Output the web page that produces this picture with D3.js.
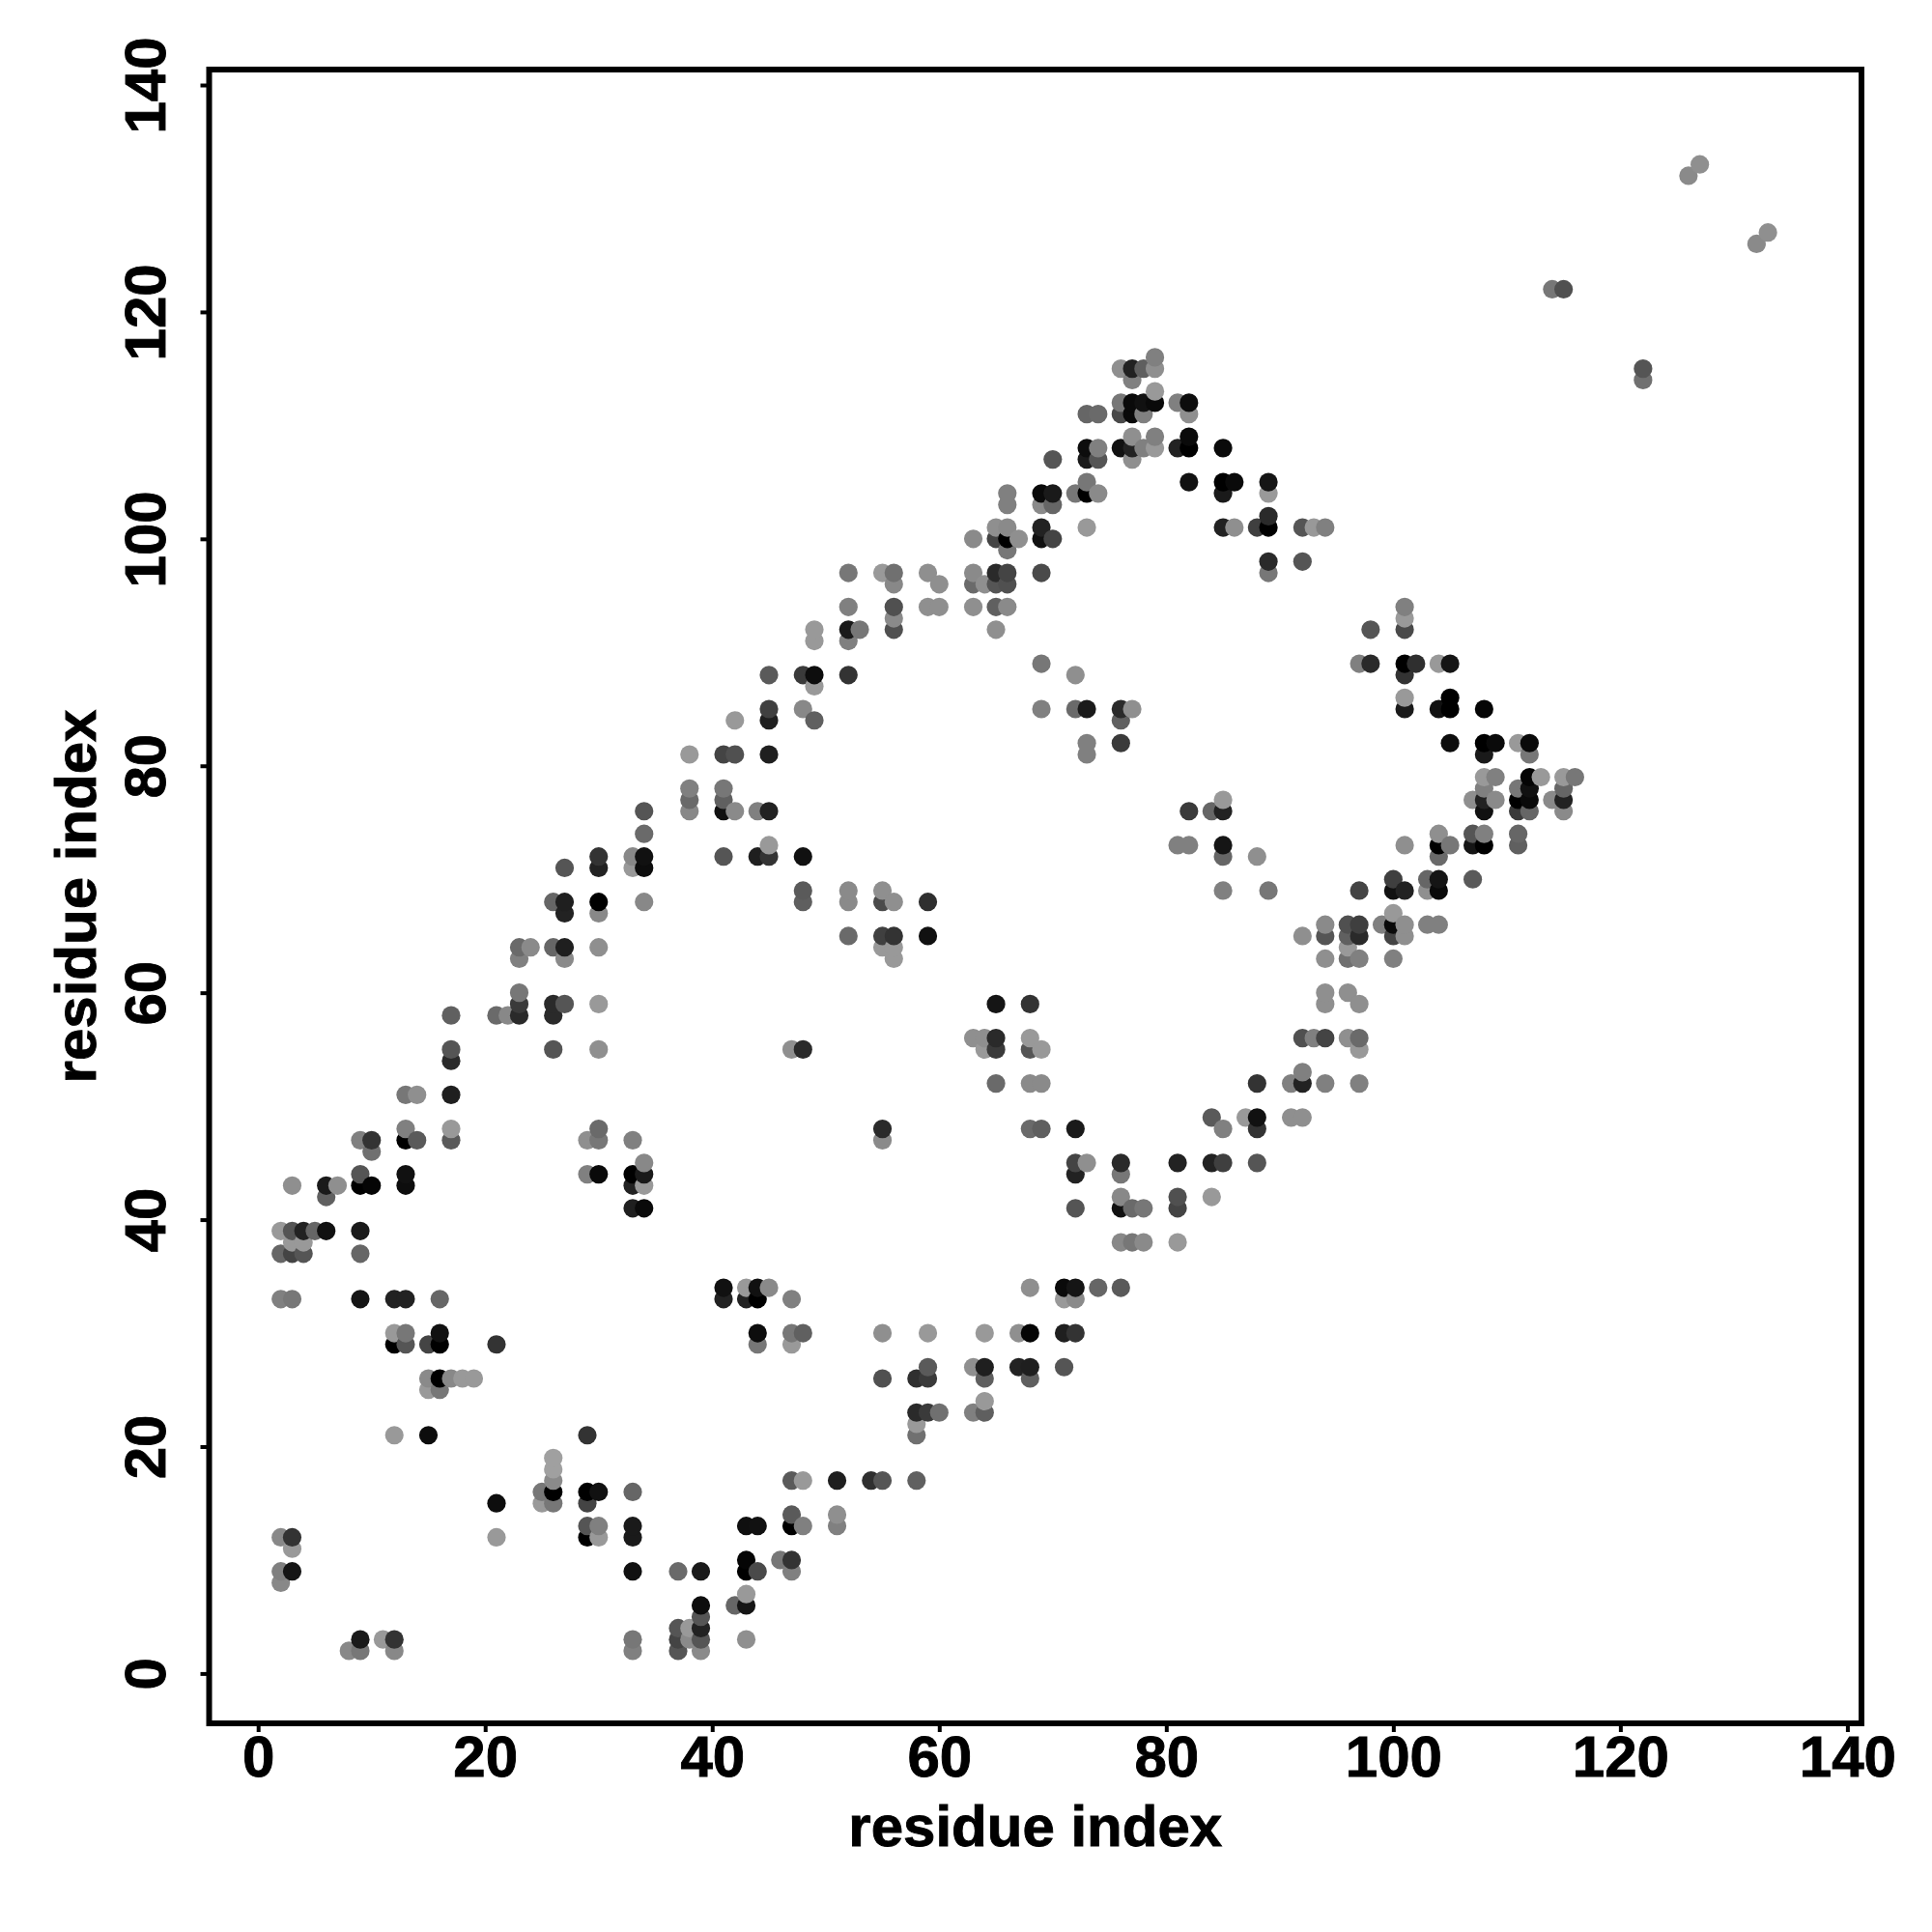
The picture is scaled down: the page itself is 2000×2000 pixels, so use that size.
<!DOCTYPE html>
<html>
<head>
<meta charset="utf-8">
<script src="https://cdn.jsdelivr.net/npm/d3@7/dist/d3.min.js"></script>
<style>
html,body{margin:0;padding:0;background:#fff;}
svg{display:block;}
text{font-family:"Liberation Sans",Arial,sans-serif;font-weight:bold;fill:#000;stroke:#000;stroke-width:0.9px;}
</style>
</head>
<body>
<svg id="chart" width="2000" height="2000"></svg>
<script>
const tickValues = [0,20,40,60,80,100,120,140];
const axisTitle = "residue index";
const rowY = [133,132,127,126,122,116,115,114,113,112,111,109,108,107,105,104,103,102,101,100,99,98,97,96,94,93,92,91,89,88,87,86,85,84,82,81,79,78,77,76,74,73,72,71,70,69,68,67,66,65,64,63,60,59,58,56,55,54,53,52,51,49,48,47,46,45,44,43,42,41,39,38,37,34,33,30,29,27,26,25,24,23,22,21,19,18,17,16,15,14,13,12,11,10,9,8,7,6,5,4,3,2];
const rowX = [
[127],[126],[133],[132],[114,115],[79],[76,77,78,79,122],[77,122],[79],
[76,77,78,79,81,82],[73,74,76,77,78,82],[77,79,82],[73,74,76,77,78,79,81,82,85],
[70,73,74,77],[73,82,85,86,89],[66,69,70,72,73,74,85,89],[66,69,70],[89],
[65,66,69,73,85,86,88,89,92,93,94],[63,65,66,67,69,70],[66],[89,92],
[52,55,56,59,63,65,66,69,89],[56,60,63,64,65,66],[52,56,59,60,63,65,66,101],[56,101],
[49,52,53,56,65,98,101],[49,52],[69,97,98,101,102,104,105],[45,48,49,52,72,101],[49],[101,105],
[45,48,69,72,73,76,77,101,104,105,108],[42,45,49,76],[73,76,105,108,109,111,112],
[38,41,42,45,73,108,112],[108,109,112,113,115,116],[38,41,108,111,112,115],
[38,41,85,107,108,109,111,112,114,115],[34,38,41,42,44,45,82,84,85,108,111,112,115],
[34,104,107,108,111],[45,81,82,85,101,104,105,107,108,111],[30,33,34,41,44,45,48,85,88,104],
[27,30,33,34],[100,103,104,107],[48,52,55,85,89,97,100,101,103,104],
[26,27,30,34,48,52,55,56,59],[27,30,100],[94,96,97,99,100,101,103,104],
[52,55,56,59,92,94,96,97,100,101],[23,24,26,27,30,55,56,96],[23,27,56,94,96,97,100],
[23,94,96],[23,26,27,30,65,68,94,97],[17,21,22,23,26],[63,64,65,68,92,93,94,96,97],
[17,26,30,47,48,64,65,68,69,97],[17],[92],[65,68,69,88,91,92,94,97],[13,14,17],
[84,87,88,91,92],[13,17,30,55,68,69,72,85,88],[9,10,13,14,17,29,30,33,55],[10],
[34,72,73,76,81,84,85,88],[9,13,29,30,33,34,72,76],[3,6,7,9,10,13,33,34],[6,76,81,84],
[33,34,72,76,77,78,81],[2,3,4,5,6,9],[3,4,76,77,78,81],[2,3,4,9],
[41,43,44,45,68,71,72,74,76],[2,3,9,12,13,16,41,43,44,47,71,72],
[12,13,16,44,47,48,55,59,64,67,68,71,72],[12,13,15,16,21,44,47],[59,63,64,67,68,71],
[15,16,17,18,19,55,58,59,64,68],[15,16],[64],[58,59,60,63,64],[58],[12,15,29,58],[26],[26],
[26,47,48,51,54,55,58],[25,26,29,30,33],[21,25,26,29],[47,51],[29,30,33,43,44,47,48,51],
[2,3,21,29,30,33],[3],[43,46,47],[2,3,33,37,39,43,44,47],[2],[43],[39,42,43],[39],[37,38,39],
[9,11,12,33,37,38,39,43],[8,9,12,33,37,39]
];
const rowShade = [
[143],[138],[143],[138],[119,80],[128],[143,34,95,143,85],[128,112],[153],
[119,10,17,10,128,13],[102,106,74,10,128,143],[143,128,10],[13,128,17,34,128,153,34,0,10],
[85,26,85,143],[119,17,0,10,21],[128,10,26,119,0,138,26,153],[128,138,102],[42],
[143,138,34,153,34,143,63,0,85,153,128],[138,68,0,143,17,68],[119],[42,85],
[119,153,112,143,138,42,68,74,119],[136,143,106,143,85,80],[128,80,143,143,143,96,138,128],[138,154],
[153,26,119,80,143,85,74],[153,128],[119,128,42,0,47,153,21],[90,58,13,51,143,51],[153],[153,0],
[64,136,128,106,26,42,143,26,17,0,5],[153,31,96,96],[128,58,13,0,10,153,10],
[153,68,80,31,128,26,119],[153,128,5,153,153,119],[128,119,128,119,17,102],
[106,96,153,143,34,138,0,10,138,34],[85,136,17,138,128,34,58,102,34,17,58,102,138],
[106,143,85,128,102],[153,128,128,21,143,0,119,21,0,96],[51,136,17,85,31,51,17,102,143,106],
[85,34,153,13],[63,102,21,90],[90,138,143,128,119,68,17,34,143,10],
[102,31,0,136,95,138,74,143,47],[34,136,153],[138,80,63,128,10,143,128,128],
[106,64,51,17,143,85,96,42,68,143],[106,138,102,31,143,153,153,153],[128,138,153,143,112,128,128],
[119,143,143],[58,42,85,153,21,51,143,143],[96,106,136,42,42],[143,143,42,153,80,128,68,143,106],
[85,85,143,143,42,153,58,85,153,153],[42],[128],[106,138,138,51,128,34,128,128],[119,143,31],
[90,153,17,143,143],[128,153,106,42,106,95,26,128,51],[128,51,0,90,90,143,119,128,138],[112],
[136,68,143,42,34,34,63,85],[85,17,128,10,0,26,34,119],[143,26,143,0,5,13,34,153],[96,136,80,153],
[31,10,85,17,106,119,68],[153,85,34,102,17,26],[153,153,136,119,138,153],[102,68,85,102],
[17,153,17,138,143,10,21,102,90],[128,119,21,34,34,102,34,34,0,128,153,138],
[153,119,17,13,119,96,143,153,153,143,5,31,51],[0,85,68,0,51,119,153],[90,143,31,34,31,85],
[138,0,136,153,153,80,47,58,95,95],[153,119],[153],[42,58,112,128,95],[153],[153,13,51,112],[160],[160],
[138,90,153,31,47,85,96],[119,0,0,17,102],[13,153,119,68],[90,143],[85,128,26,15,17,0,128,128],
[136,51,153,0,153,26],[153],[5,119,51],[128,21,17,106,26,0,74,128],[136],[153],[13,102,21],[85],[85,153,34],
[26,153,51,119,68,138,85,143],[136,119,136,128,85,138]
];

const contacts = d3.sort(
  rowY.flatMap((y,i)=>rowX[i].map((x,k)=>({x,y,shade:rowShade[i][k]}))),
  d=>d.x, d=>d.y
);

const frame = {left:216.5, right:1927, top:72, bottom:1784};
const x = d3.scaleLinear().domain([0,140]).range([267.2,1912.4]);
const y = d3.scaleLinear().domain([0,140]).range([1732.4,88]);
const svg = d3.select("#chart");

svg.append("g").selectAll("circle").data(contacts).join("circle")
  .attr("cx",d=>x(d.x)).attr("cy",d=>y(d.y)).attr("r",9.6)
  .attr("fill",d=>d3.rgb(d.shade,d.shade,d.shade));

svg.append("rect")
  .attr("x",frame.left).attr("y",frame.top)
  .attr("width",frame.right-frame.left).attr("height",frame.bottom-frame.top)
  .attr("fill","none").attr("stroke","#000").attr("stroke-width",6);

const gx = svg.append("g").attr("transform",`translate(0,${frame.bottom})`)
  .call(d3.axisBottom(x).tickValues(tickValues).tickSize(9).tickPadding(0).tickFormat(d3.format("d")));
const gy = svg.append("g").attr("transform",`translate(${frame.left},0)`)
  .call(d3.axisLeft(y).tickValues(tickValues).tickSize(9).tickPadding(0).tickFormat(d3.format("d")));
[gx,gy].forEach(g=>{
  g.select(".domain").remove();
  g.selectAll(".tick line").attr("stroke","#000").attr("stroke-width",4);
  g.selectAll(".tick text").attr("font-size",60).style("font-family",'"Liberation Sans",Arial,sans-serif').style("font-weight","bold");
});
gx.selectAll(".tick text").attr("y",55).attr("dy",0).attr("text-anchor","middle");
gy.selectAll(".tick text")
  .attr("x",null).attr("dy",0).attr("text-anchor","middle")
  .attr("transform",d=>`translate(${171-frame.left},0) rotate(-90)`);

svg.append("text").attr("x",(frame.left+frame.right)/2).attr("y",1911)
  .attr("text-anchor","middle").attr("font-size",60).text(axisTitle);
svg.append("text").attr("text-anchor","middle").attr("font-size",60)
  .attr("transform",`translate(99,${(frame.top+frame.bottom)/2}) rotate(-90)`).text(axisTitle);
</script>
</body>
</html>
